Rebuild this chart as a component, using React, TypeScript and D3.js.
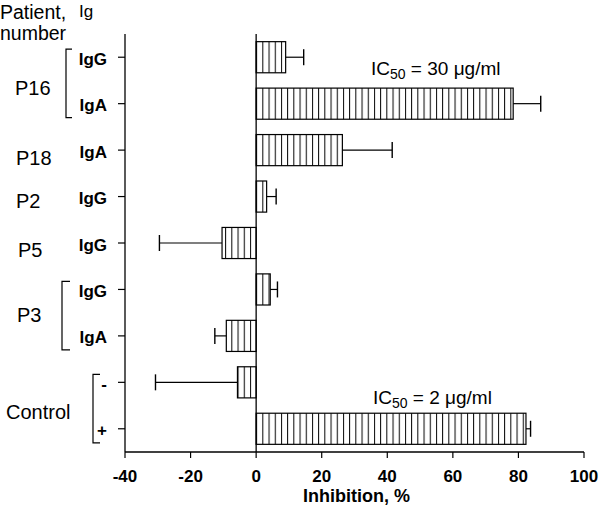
import React from "react";
import * as d3 from "d3";

// ---- data ----
const rowIds = ["P16-IgG", "P16-IgA", "P18-IgA", "P2-IgG", "P5-IgG", "P3-IgG", "P3-IgA", "C-neg", "C-pos"];
const igLabels = ["IgG", "IgA", "IgA", "IgG", "IgG", "IgG", "IgA", "-", "+"];
const values = [9.0, 78.4, 26.3, 3.2, -10.4, 4.3, -9.1, -5.7, 82.3];
const errors = [5.5, 8.4, 15.2, 2.9, 19.1, 2.2, 3.5, 25.0, 1.4];
const groupLabels = ["P16", "P18", "P2", "P5", "P3", "Control"];
const groupRows = [[0, 1], [2], [3], [4], [5, 6], [7, 8]];
const xTicks = [-40, -20, 0, 20, 40, 60, 80, 100];
const ic50Rows = [1, 8];
const ic50Values = ["30", "2"];

// ---- layout ----
const W = 600, H = 514;
const groupLabelX = [15, 16, 16, 18, 17, 6];
const groupLabelDy = [15, 15, 11, 14, 9.5, 13];
const bracketX = [66, null, null, null, 62, 93];
const bracketArm = [6, 0, 0, 0, 8, 7];
const ic50X = [371, 373];
const ic50Dy = [-29, -25];

export default function App() {
  const x = d3.scaleLinear().domain([-40, 100]).range([125, 584]);
  const y = d3.scaleBand<string>().domain(rowIds).range([34, 452]).paddingInner(0.33).paddingOuter(0.165);
  const bh = y.bandwidth();
  const cy = (i: number) => (y(rowIds[i]) as number) + bh / 2;
  const x0 = x(0);
  const font = "'Liberation Sans', Arial, Helvetica, sans-serif";
  const capH = 16;

  return (
    <svg width={W} height={H} style={{ position: "absolute", left: 0, top: 0, background: "#fff" }} fontFamily={font}>
      <defs>
        <pattern id="vhatch" patternUnits="userSpaceOnUse" x={x0} y={0} width={6.2} height={10}>
          <line x1={0.5} y1={0} x2={0.5} y2={10} stroke="#000" strokeWidth={1} />
        </pattern>
      </defs>
      <rect x={0} y={0} width={W} height={H} fill="#fff" />

      {/* header */}
      <text x={0} y={19} fontSize={19.5}>Patient,</text>
      <text x={0} y={40} fontSize={19.5}>number</text>
      <text x={79} y={17} fontSize={17}>Ig</text>

      {/* bars */}
      {values.map((v, i) => {
        const xa = Math.min(x(0), x(v));
        const w = Math.abs(x(v) - x(0));
        const top = y(rowIds[i]) as number;
        const end = x(v);
        const errEnd = x(v + Math.sign(v) * errors[i]);
        const c = cy(i);
        return (
          <g key={rowIds[i]}>
            <rect x={xa} y={top} width={w} height={bh} fill="url(#vhatch)" stroke="#000" strokeWidth={1.2} />
            <line x1={end} y1={c} x2={errEnd} y2={c} stroke="#000" strokeWidth={1.2} />
            <line x1={errEnd} y1={c - capH / 2} x2={errEnd} y2={c + capH / 2} stroke="#000" strokeWidth={1.4} />
          </g>
        );
      })}

      {/* zero line */}
      <line x1={x0} y1={34} x2={x0} y2={452} stroke="#000" strokeWidth={1.3} />

      {/* left axis */}
      <line x1={x(-40)} y1={34} x2={x(-40)} y2={452} stroke="#000" strokeWidth={1.3} />
      {rowIds.map((id, i) => (
        <g key={"t" + id}>
          <line x1={x(-40) - 7} y1={cy(i)} x2={x(-40)} y2={cy(i)} stroke="#000" strokeWidth={1.2} />
          <text x={107} y={cy(i) + 7.5} fontSize={17} fontWeight="bold" textAnchor="end">{igLabels[i]}</text>
        </g>
      ))}

      {/* bottom axis */}
      <line x1={x(-40)} y1={452} x2={x(100)} y2={452} stroke="#000" strokeWidth={1.3} />
      {xTicks.map((t) => (
        <g key={"x" + t}>
          <line x1={x(t)} y1={452} x2={x(t)} y2={458} stroke="#000" strokeWidth={1.2} />
          <text x={x(t)} y={482} fontSize={17} fontWeight="bold" textAnchor="middle">{t}</text>
        </g>
      ))}
      <text x={(x(-40) + x(100)) / 2 + 2} y={502} fontSize={18} fontWeight="bold" textAnchor="middle">Inhibition, %</text>

      {/* group labels and brackets */}
      {groupLabels.map((g, gi) => {
        const rows = groupRows[gi];
        const c1 = cy(rows[0]);
        const c2 = cy(rows[rows.length - 1]);
        const mid = (c1 + c2) / 2;
        const bx = bracketX[gi];
        return (
          <g key={"g" + g}>
            <text x={groupLabelX[gi]} y={mid + groupLabelDy[gi]} fontSize={20}>{g}</text>
            {bx !== null && (
              <path
                d={`M${bx + bracketArm[gi]},${c1 - 8} H${bx} V${c2 + 14} H${bx + bracketArm[gi]}`}
                fill="none"
                stroke="#000"
                strokeWidth={1.2}
              />
            )}
          </g>
        );
      })}

      {/* IC50 annotations */}
      {ic50Rows.map((r, k) => (
        <text key={"ic" + k} x={ic50X[k]} y={cy(r) + ic50Dy[k]} fontSize={19}>
          IC
          <tspan fontSize={14} dy={4}>50</tspan>
          <tspan dy={-4}>{` = ${ic50Values[k]} \u03BCg/ml`}</tspan>
        </text>
      ))}
    </svg>
  );
}
